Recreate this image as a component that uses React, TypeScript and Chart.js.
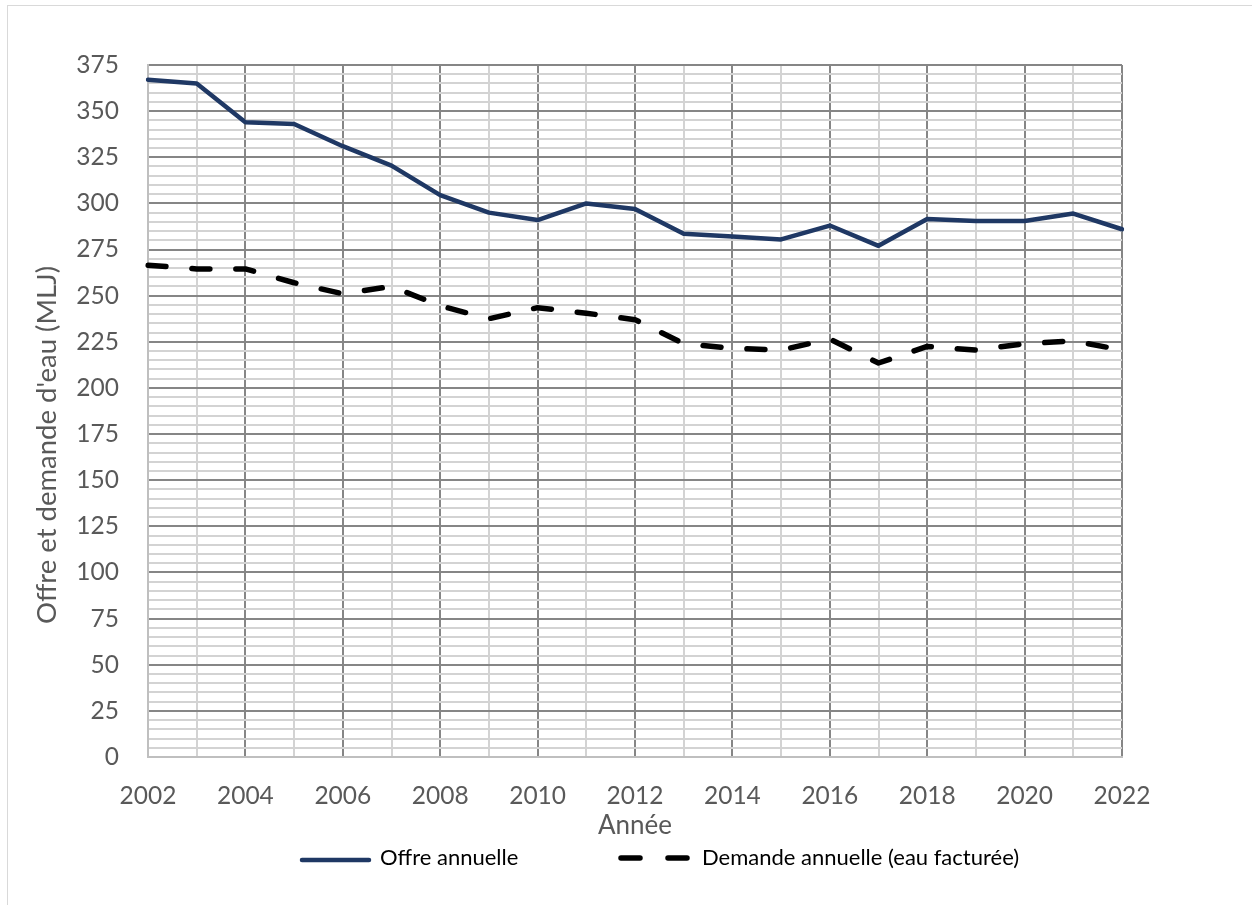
import { useEffect, useRef } from "react";
import { Chart, registerables } from "chart.js";

Chart.register(...registerables);

// Years on the horizontal axis
const years = [
  "2002", "2003", "2004", "2005", "2006", "2007", "2008", "2009", "2010", "2011",
  "2012", "2013", "2014", "2015", "2016", "2017", "2018", "2019", "2020", "2021", "2022",
];

// Annual supply (MLJ)
const offreAnnuelle = [
  367, 365, 344, 343, 331, 320.5, 304.5, 295, 291, 300,
  297, 283.5, 282, 280.5, 288, 277, 291.5, 290.5, 290.5, 294.5, 286,
];

// Annual billed demand (MLJ)
const demandeAnnuelle = [
  266.5, 264.5, 264.5, 257, 251, 255, 244.5, 237.5, 243.5, 240.5,
  237, 224, 221.5, 220.5, 226.5, 213.5, 222.5, 220.5, 224, 225.5, 220.5,
];

const seriesNames = ["Offre annuelle", "Demande annuelle (eau facturée)"];
const yTitle = "Offre et demande d'eau (MLJ)";
const xTitle = "Année";
const yMin = 0;
const yMax = 375;
const yMajorStep = 25;
const yMinorStep = 5;

const FONT = "Lato, 'Noto Sans', sans-serif";
const TEXT_GREY = "#595959";
const GRID_MAJOR = "#868686";
const GRID_MINOR = "#d3d3d3";
const AXIS_LINE = "#bfbfbf";
const NAVY = "#1f3864";

// Axis titles and the legend row under the plot
const titlesAndLegend = {
  id: "titlesAndLegend",
  afterDraw(chart: any) {
    const { ctx, chartArea: a } = chart;
    const cx = (a.left + a.right) / 2;
    ctx.save();
    ctx.fillStyle = TEXT_GREY;
    ctx.font = `26px ${FONT}`;
    ctx.textAlign = "center";
    ctx.textBaseline = "middle";
    ctx.fillText(xTitle, cx, a.bottom + 69);

    ctx.save();
    ctx.font = `27.5px ${FONT}`;
    ctx.translate(47, (a.top + a.bottom) / 2 + 34);
    ctx.rotate(-Math.PI / 2);
    ctx.fillText(yTitle, 0, 0);
    ctx.restore();

    const ly = a.bottom + 101;
    ctx.lineCap = "round";

    // solid series sample
    ctx.strokeStyle = NAVY;
    ctx.lineWidth = 4.5;
    ctx.beginPath();
    ctx.moveTo(cx - 333, ly + 2);
    ctx.lineTo(cx - 266, ly + 2);
    ctx.stroke();

    // dashed series sample
    ctx.strokeStyle = "#000";
    ctx.lineWidth = 5.5;
    ctx.setLineDash([19, 28]);
    ctx.beginPath();
    ctx.moveTo(cx - 14, ly);
    ctx.lineTo(cx + 55, ly);
    ctx.stroke();
    ctx.setLineDash([]);

    ctx.fillStyle = "#000";
    ctx.font = `22px ${FONT}`;
    ctx.textAlign = "left";
    ctx.fillText(seriesNames[0], cx - 255, ly);
    ctx.fillText(seriesNames[1], cx + 67, ly);
    ctx.restore();
  },
};

export default function App() {
  const canvasRef = useRef<HTMLCanvasElement>(null);

  useEffect(() => {
    if (!canvasRef.current) return;
    const chart = new Chart(canvasRef.current, {
      type: "line",
      data: {
        labels: years,
        datasets: [
          {
            label: seriesNames[0],
            data: offreAnnuelle,
            borderColor: NAVY,
            backgroundColor: NAVY,
            borderWidth: 4.5,
            pointRadius: 0,
            tension: 0,
            borderCapStyle: "round",
            borderJoinStyle: "round",
          },
          {
            label: seriesNames[1],
            data: demandeAnnuelle,
            borderColor: "#000000",
            backgroundColor: "#000000",
            borderWidth: 5.5,
            borderDash: [18, 26],
            pointRadius: 0,
            tension: 0,
            borderCapStyle: "round",
            borderJoinStyle: "round",
          },
        ],
      },
      options: {
        responsive: false,
        animation: false,
        events: [],
        layout: { padding: { top: 65, right: 130, bottom: 88, left: 0 } },
        plugins: {
          legend: { display: false },
          tooltip: { enabled: false },
        },
        scales: {
          x: {
            type: "category",
            afterFit: (s: any) => {
              s.height = 60;
            },
            border: { color: AXIS_LINE, width: 2 },
            grid: {
              drawTicks: false,
              lineWidth: 2,
              color: (c: any) =>
                c.index === 0
                  ? AXIS_LINE
                  : Number(years[c.index]) % 2 === 0
                  ? GRID_MAJOR
                  : GRID_MINOR,
            },
            ticks: {
              autoSkip: false,
              maxRotation: 0,
              padding: 24,
              color: TEXT_GREY,
              font: { family: FONT, size: 24.5 },
              callback: (_v: any, i: number) =>
                Number(years[i]) % 2 === 0 ? years[i] : "",
            },
          },
          y: {
            min: yMin,
            max: yMax,
            afterFit: (s: any) => {
              s.width = 148;
            },
            border: { color: AXIS_LINE, width: 2 },
            grid: {
              drawTicks: false,
              lineWidth: 2,
              color: (c: any) =>
                c.tick.value === yMin
                  ? AXIS_LINE
                  : c.tick.value % yMajorStep === 0
                  ? GRID_MAJOR
                  : GRID_MINOR,
            },
            ticks: {
              stepSize: yMinorStep,
              autoSkip: false,
              padding: 29,
              color: TEXT_GREY,
              font: { family: FONT, size: 24.5 },
              callback: (v: any) => (Number(v) % yMajorStep === 0 ? String(v) : ""),
            },
          },
        },
      },
      plugins: [titlesAndLegend],
    });
    return () => chart.destroy();
  }, []);

  return (
    <div
      style={{
        position: "fixed",
        left: 0,
        top: 0,
        width: 1252,
        height: 905,
        background: "#ffffff",
        overflow: "hidden",
      }}
    >
      <div
        style={{
          position: "absolute",
          left: 7,
          top: 5,
          width: 1280,
          height: 940,
          border: "1px solid #d9d9d9",
        }}
      />
      <canvas
        ref={canvasRef}
        width={1252}
        height={905}
        style={{ position: "absolute", left: 0, top: 0, width: 1252, height: 905 }}
      />
    </div>
  );
}
